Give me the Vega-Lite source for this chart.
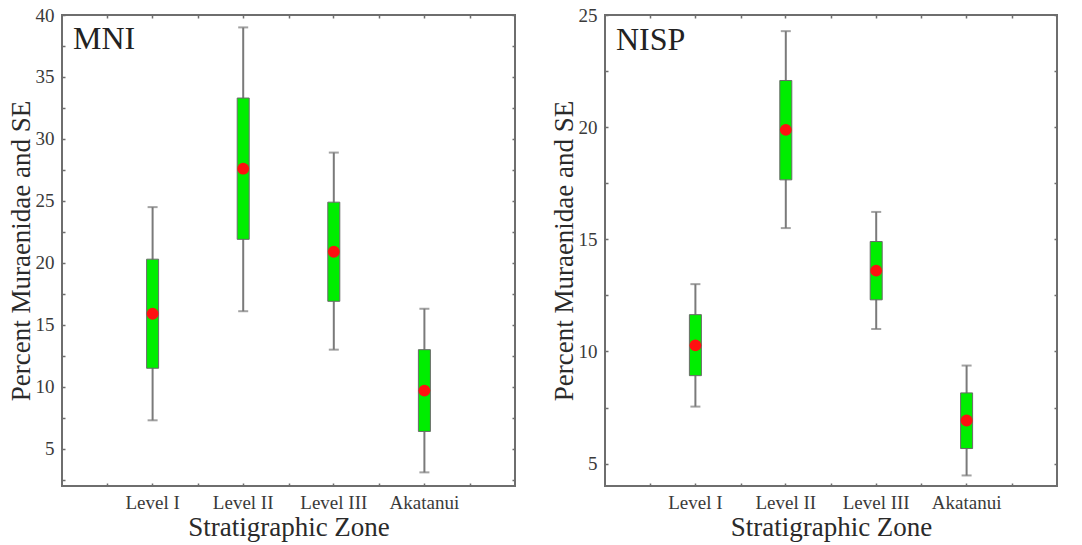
{
  "$schema": "https://vega.github.io/schema/vega-lite/v6.json",
  "background": "white",
  "padding": {"left": 6, "top": 5, "right": 5, "bottom": 5},
  "spacing": 32,
  "datasets": {
    "mni": [
      {"zone": "Level I", "mean": 15.9, "boxLo": 11.5, "boxHi": 20.3, "wLo": 7.3, "wHi": 24.5},
      {"zone": "Level II", "mean": 27.6, "boxLo": 21.9, "boxHi": 33.3, "wLo": 16.1, "wHi": 39.0},
      {"zone": "Level III", "mean": 20.9, "boxLo": 16.9, "boxHi": 24.9, "wLo": 13.0, "wHi": 28.9},
      {"zone": "Akatanui", "mean": 9.7, "boxLo": 6.4, "boxHi": 13.0, "wLo": 3.1, "wHi": 16.3}
    ],
    "nisp": [
      {"zone": "Level I", "mean": 10.27, "boxLo": 8.92, "boxHi": 11.64, "wLo": 7.54, "wHi": 13.0},
      {"zone": "Level II", "mean": 19.88, "boxLo": 17.65, "boxHi": 22.08, "wLo": 15.5, "wHi": 24.28},
      {"zone": "Level III", "mean": 13.6, "boxLo": 12.3, "boxHi": 14.9, "wLo": 11.0, "wHi": 16.22},
      {"zone": "Akatanui", "mean": 6.92, "boxLo": 5.67, "boxHi": 8.15, "wLo": 4.47, "wHi": 9.37}
    ]
  },
  "config": {
    "view": {"stroke": "#6e6e6e", "strokeWidth": 2},
    "font": "Liberation Serif",
    "axis": {
      "labelFont": "Liberation Serif",
      "titleFont": "Liberation Serif",
      "labelFontSize": 19,
      "titleFontSize": 27,
      "titleFontWeight": "normal",
      "labelColor": "#3a3a3a",
      "titleColor": "#2a2a2a",
      "tickColor": "#6e6e6e",
      "tickWidth": 1.5,
      "grid": false,
      "domain": false
    }
  },
  "hconcat": [
    {
      "width": 453,
      "height": 471,
      "data": {"name": "mni"},
      "title": {"text": "MNI", "orient": "top", "anchor": "start", "frame": "group", "offset": -50, "dx": 11, "fontSize": 32, "font": "Liberation Serif", "fontWeight": "normal", "color": "#222222"},
      "layer": [
        {
          "mark": {"type": "rule", "color": "#7a7a7a", "strokeWidth": 2},
          "encoding": {
            "x": {"field": "zone", "type": "nominal", "sort": null, "scale": {"type": "band", "paddingInner": 0, "paddingOuter": 0.5},
                  "axis": {"orient": "bottom", "title": "Stratigraphic Zone", "labelAngle": 0, "tickSize": -3, "labelPadding": 10, "titlePadding": 2}},
            "y": {"field": "wLo", "type": "quantitative", "scale": {"domain": [2, 40], "nice": false, "zero": false},
                  "axis": {"orient": "left", "title": "Percent Muraenidae and SE", "values": [2.5, 5, 7.5, 10, 12.5, 15, 17.5, 20, 22.5, 25, 27.5, 30, 32.5, 35, 37.5, 40], "labelExpr": "datum.value % 5 === 0 ? datum.label : ''", "tickSize": -3, "labelPadding": 11, "titlePadding": 0}},
            "y2": {"field": "wHi"}
          }
        },
        {
          "mark": {"type": "tick", "color": "#7a7a7a", "size": 10, "thickness": 2},
          "encoding": {
            "x": {"field": "zone", "type": "nominal", "sort": null, "axis": {"orient": "bottom", "tickBand": "extent", "labels": false, "title": null, "tickSize": -3}},
            "y": {"field": "wLo", "type": "quantitative", "axis": {"orient": "right", "labels": false, "title": null, "values": [2.5, 5, 7.5, 10, 12.5, 15, 17.5, 20, 22.5, 25, 27.5, 30, 32.5, 35, 37.5, 40], "tickSize": -3}}
          }
        },
        {
          "mark": {"type": "tick", "color": "#7a7a7a", "size": 10, "thickness": 2},
          "encoding": {
            "x": {"field": "zone", "type": "nominal", "sort": null, "axis": {"orient": "top", "labels": false, "title": null, "tickSize": -3}},
            "y": {"field": "wHi", "type": "quantitative", "axis": null}
          }
        },
        {
          "mark": {"type": "bar", "width": 12, "color": "#00ee00", "stroke": "#6a6a6a", "strokeWidth": 1},
          "encoding": {
            "x": {"field": "zone", "type": "nominal", "sort": null, "axis": {"orient": "top", "tickBand": "extent", "labels": false, "title": null, "tickSize": -3}},
            "y": {"field": "boxLo", "type": "quantitative", "axis": null},
            "y2": {"field": "boxHi"}
          }
        },
        {
          "mark": {"type": "point", "filled": true, "color": "#ff1010", "opacity": 1, "size": 140},
          "encoding": {
            "x": {"field": "zone", "type": "nominal", "sort": null, "axis": null},
            "y": {"field": "mean", "type": "quantitative", "axis": null}
          }
        }
      ],
      "resolve": {"axis": {"x": "independent", "y": "independent"}}
    },
    {
      "width": 452,
      "height": 471,
      "data": {"name": "nisp"},
      "title": {"text": "NISP", "orient": "top", "anchor": "start", "frame": "group", "offset": -51, "dx": 11, "fontSize": 32, "font": "Liberation Serif", "fontWeight": "normal", "color": "#222222"},
      "layer": [
        {
          "mark": {"type": "rule", "color": "#7a7a7a", "strokeWidth": 2},
          "encoding": {
            "x": {"field": "zone", "type": "nominal", "sort": null, "scale": {"type": "band", "paddingInner": 0, "paddingOuter": 0.5},
                  "axis": {"orient": "bottom", "title": "Stratigraphic Zone", "labelAngle": 0, "tickSize": -3, "labelPadding": 10, "titlePadding": 2}},
            "y": {"field": "wLo", "type": "quantitative", "scale": {"domain": [4, 25], "nice": false, "zero": false},
                  "axis": {"orient": "left", "title": "Percent Muraenidae and SE", "values": [5, 7.5, 10, 12.5, 15, 17.5, 20, 22.5, 25], "labelExpr": "datum.value % 5 === 0 ? datum.label : ''", "tickSize": -3, "labelPadding": 11, "titlePadding": 0}},
            "y2": {"field": "wHi"}
          }
        },
        {
          "mark": {"type": "tick", "color": "#7a7a7a", "size": 10, "thickness": 2},
          "encoding": {
            "x": {"field": "zone", "type": "nominal", "sort": null, "axis": {"orient": "bottom", "tickBand": "extent", "labels": false, "title": null, "tickSize": -3}},
            "y": {"field": "wLo", "type": "quantitative", "axis": {"orient": "right", "labels": false, "title": null, "values": [5, 7.5, 10, 12.5, 15, 17.5, 20, 22.5, 25], "tickSize": -3}}
          }
        },
        {
          "mark": {"type": "tick", "color": "#7a7a7a", "size": 10, "thickness": 2},
          "encoding": {
            "x": {"field": "zone", "type": "nominal", "sort": null, "axis": {"orient": "top", "labels": false, "title": null, "tickSize": -3}},
            "y": {"field": "wHi", "type": "quantitative", "axis": null}
          }
        },
        {
          "mark": {"type": "bar", "width": 12, "color": "#00ee00", "stroke": "#6a6a6a", "strokeWidth": 1},
          "encoding": {
            "x": {"field": "zone", "type": "nominal", "sort": null, "axis": {"orient": "top", "tickBand": "extent", "labels": false, "title": null, "tickSize": -3}},
            "y": {"field": "boxLo", "type": "quantitative", "axis": null},
            "y2": {"field": "boxHi"}
          }
        },
        {
          "mark": {"type": "point", "filled": true, "color": "#ff1010", "opacity": 1, "size": 140},
          "encoding": {
            "x": {"field": "zone", "type": "nominal", "sort": null, "axis": null},
            "y": {"field": "mean", "type": "quantitative", "axis": null}
          }
        }
      ],
      "resolve": {"axis": {"x": "independent", "y": "independent"}}
    }
  ]
}
